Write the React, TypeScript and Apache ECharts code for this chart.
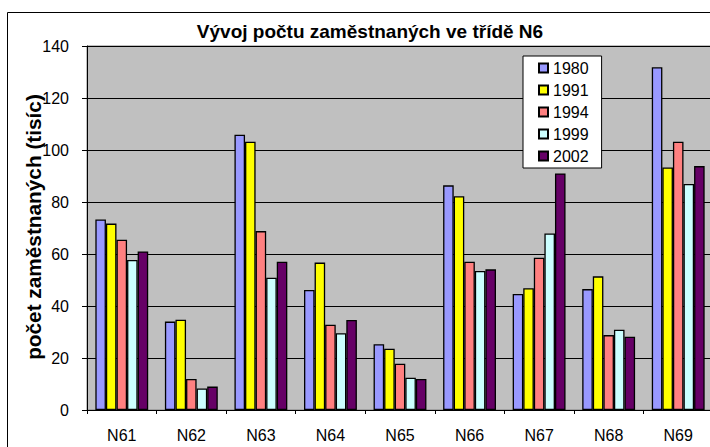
import React, { useEffect, useRef } from "react";
import * as echarts from "echarts";

const categories = ["N61", "N62", "N63", "N64", "N65", "N66", "N67", "N68", "N69"];
const years = ["1980", "1991", "1994", "1999", "2002"];
const v1980 = [73.3, 34.0, 105.9, 46.2, 25.3, 86.4, 44.6, 46.5, 131.8];
const v1991 = [71.7, 34.7, 103.2, 56.7, 23.6, 82.2, 46.8, 51.4, 93.3];
const v1994 = [65.5, 11.9, 68.8, 32.8, 17.8, 57.0, 58.6, 28.8, 103.2];
const v1999 = [57.7, 8.3, 50.9, 29.5, 12.4, 53.5, 67.9, 30.9, 86.9];
const v2002 = [61.0, 9.0, 57.0, 34.6, 11.9, 54.1, 91.0, 28.2, 93.8];
const yTicks = [0, 20, 40, 60, 80, 100, 120, 140];
const colors = ["#9999FF", "#FFFF00", "#FF8080", "#CCFFFF", "#660066"];
const seriesValues = [v1980, v1991, v1994, v1999, v2002];

const FONT = "'Liberation Sans', Arial, sans-serif";

export default function App() {
  const ref = useRef<HTMLDivElement>(null);
  useEffect(() => {
    if (!ref.current) return;
    const chart = echarts.init(ref.current, undefined, { renderer: "svg" });
    chart.setOption({
      animation: false,
      backgroundColor: "#ffffff",
      title: {
        text: "Vývoj počtu zaměstnaných ve třídě N6",
        left: 365,
        textAlign: "center",
        top: 17,
        textStyle: { fontFamily: FONT, fontSize: 19, fontWeight: "bold", color: "#000" },
      },
      graphic: [
        {
          type: "rect",
          shape: { x: 7.5, y: 12.5, width: 800, height: 500 },
          style: { fill: "none", stroke: "#000", lineWidth: 1 },
          z: 100,
          silent: true,
        },
        {
          type: "text",
          x: 34,
          y: 227,
          rotation: Math.PI / 2,
          scaleX: 1.04,
          style: {
            text: "počet zaměstnaných (tisíc)",
            fontFamily: FONT,
            fontSize: 20,
            fontWeight: "bold",
            fill: "#000",
            textAlign: "center",
            textVerticalAlign: "middle",
          },
        },
      ],
      legend: {
        orient: "vertical",
        left: 523,
        top: 56,
        data: years,
        backgroundColor: "#ffffff",
        borderColor: "#000",
        borderWidth: 1,
        padding: [4, 13, 4, 15],
        itemWidth: 9,
        itemHeight: 9,
        itemGap: 6,
        icon: "rect",
        textStyle: { fontFamily: FONT, fontSize: 16, color: "#000", lineHeight: 15, padding: [0, 0, 0, 0] },
      },
      grid: {
        left: 87,
        top: 46,
        width: 626,
        height: 364,
        show: true,
        backgroundColor: "#C0C0C0",
        borderColor: "#808080",
        borderWidth: 1,
      },
      xAxis: {
        type: "category",
        data: categories,
        axisLine: { lineStyle: { color: "#000", width: 1 } },
        axisTick: { show: true, length: 4, lineStyle: { color: "#000" } },
        axisLabel: { fontFamily: FONT, fontSize: 16, color: "#000", margin: 17 },
      },
      yAxis: {
        type: "value",
        min: yTicks[0],
        max: yTicks[yTicks.length - 1],
        interval: 20,
        axisLine: { show: true, lineStyle: { color: "#000", width: 1 } },
        axisTick: { show: true, length: 5, lineStyle: { color: "#000" } },
        axisLabel: { fontFamily: FONT, fontSize: 16, color: "#000", margin: 18 },
        splitLine: { show: true, lineStyle: { color: "#000", width: 1 } },
      },
      series: years.map((y, i) => ({
        name: y,
        type: "bar",
        data: seriesValues[i],
        barGap: "0%",
        barCategoryGap: "24%",
        itemStyle: { color: colors[i], borderColor: "#000", borderWidth: 1.3 },
      })),
    });
    return () => chart.dispose();
  }, []);
  return (
    <div style={{ position: "fixed", left: 0, top: 0, width: 710, height: 447, overflow: "hidden", background: "#fff" }}>
      <div ref={ref} style={{ width: 730, height: 447 }} />
    </div>
  );
}
